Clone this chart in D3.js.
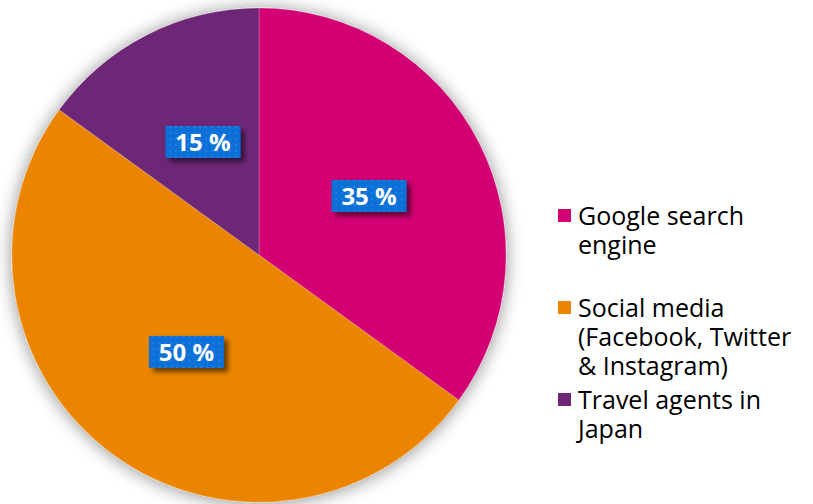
<!DOCTYPE html>
<html>
<head>
<meta charset="utf-8">
<script src="https://cdn.jsdelivr.net/npm/d3@7"></script>
<style>
  html, body { margin: 0; padding: 0; background: #ffffff; }
  svg { display: block; }
</style>
</head>
<body>
<svg id="chart" width="813" height="504"></svg>
<script>
// Sources of travel information
const categories = ["Google search engine", "Social media (Facebook, Twitter & Instagram)", "Travel agents in Japan"];
const values = [35, 50, 15];
const colors = ["#D20072", "#EB8500", "#6E2777"];
// Legend text, wrapped as it is shown
const legendLines = [
  ["Google search", "engine"],
  ["Social media", "(Facebook, Twitter", "& Instagram)"],
  ["Travel agents in", "Japan"]
];

const svg = d3.select("#chart");
const cx = 259, cy = 255, R = 247;
const FONT = "'Open Sans', 'Noto Sans', sans-serif";

const defs = svg.append("defs");

// soft glow under the pie
const glow = defs.append("filter").attr("id", "pieShadow")
  .attr("x", "-20%").attr("y", "-20%").attr("width", "140%").attr("height", "140%");
glow.append("feGaussianBlur").attr("in", "SourceAlpha").attr("stdDeviation", 9).attr("result", "b");
glow.append("feOffset").attr("in", "b").attr("dx", 0).attr("dy", 1).attr("result", "o");
glow.append("feComponentTransfer").attr("in", "o").attr("result", "s")
  .append("feFuncA").attr("type", "linear").attr("slope", 0.45);
const gm = glow.append("feMerge");
gm.append("feMergeNode").attr("in", "s");
gm.append("feMergeNode").attr("in", "SourceGraphic");

// drop shadow for the value boxes
const boxShadow = defs.append("filter").attr("id", "boxShadow")
  .attr("x", "-30%").attr("y", "-40%").attr("width", "170%").attr("height", "200%");
boxShadow.append("feGaussianBlur").attr("in", "SourceAlpha").attr("stdDeviation", 2.5).attr("result", "b");
boxShadow.append("feOffset").attr("in", "b").attr("dx", 4).attr("dy", 4).attr("result", "o");
boxShadow.append("feComponentTransfer").attr("in", "o").attr("result", "s")
  .append("feFuncA").attr("type", "linear").attr("slope", 0.55);
const bm = boxShadow.append("feMerge");
bm.append("feMergeNode").attr("in", "s");
bm.append("feMergeNode").attr("in", "SourceGraphic");

// dotted fill for the value boxes
const pat = defs.append("pattern").attr("id", "dots")
  .attr("patternUnits", "userSpaceOnUse").attr("width", 6).attr("height", 6);
pat.append("rect").attr("width", 6).attr("height", 6).attr("fill", "#0A6FD6");
pat.append("rect").attr("x", 2).attr("y", 2).attr("width", 2).attr("height", 2).attr("fill", "#1E80E4");

const pie = d3.pie().sort(null).value(d => d)(values);
const arc = d3.arc().innerRadius(0).outerRadius(R);

const g = svg.append("g").attr("transform", `translate(${cx},${cy})`);
const slices = g.append("g").attr("filter", "url(#pieShadow)");
slices.selectAll("path").data(pie).join("path")
  .attr("d", arc)
  .attr("fill", (d, i) => colors[i])
  .attr("stroke", "rgba(255,255,255,0.35)")
  .attr("stroke-width", 0.6);

// value labels
const boxW = 75, boxH = 32;
const labels = g.append("g");
pie.forEach((d, i) => {
  const [x, y] = arc.centroid(d);
  const lg = labels.append("g").attr("transform", `translate(${x},${y - 3})`);
  lg.append("rect")
    .attr("x", -boxW / 2).attr("y", -boxH / 2)
    .attr("width", boxW).attr("height", boxH)
    .attr("fill", "url(#dots)")
    .attr("filter", "url(#boxShadow)");
  lg.append("text")
    .attr("text-anchor", "middle")
    .attr("dy", "0.36em")
    .attr("fill", "#ffffff")
    .attr("font-family", FONT)
    .attr("font-weight", "bold")
    .attr("font-size", 24)
    .text(`${values[i]} %`);
});

// legend
const legendX = 558, legendTop = 209, entryGap = 92, lineH = 29, sq = 13;
const legend = svg.append("g");
categories.forEach((c, i) => {
  const ey = legendTop + i * entryGap;
  const eg = legend.append("g").attr("transform", `translate(${legendX},${ey})`);
  eg.append("rect").attr("width", sq).attr("height", sq).attr("fill", colors[i]);
  legendLines[i].forEach((line, j) => {
    eg.append("text")
      .attr("x", 20).attr("y", 16 + j * lineH)
      .attr("font-family", FONT)
      .attr("font-size", 25)
      .attr("fill", "#000000")
      .text(line);
  });
});
</script>
</body>
</html>
